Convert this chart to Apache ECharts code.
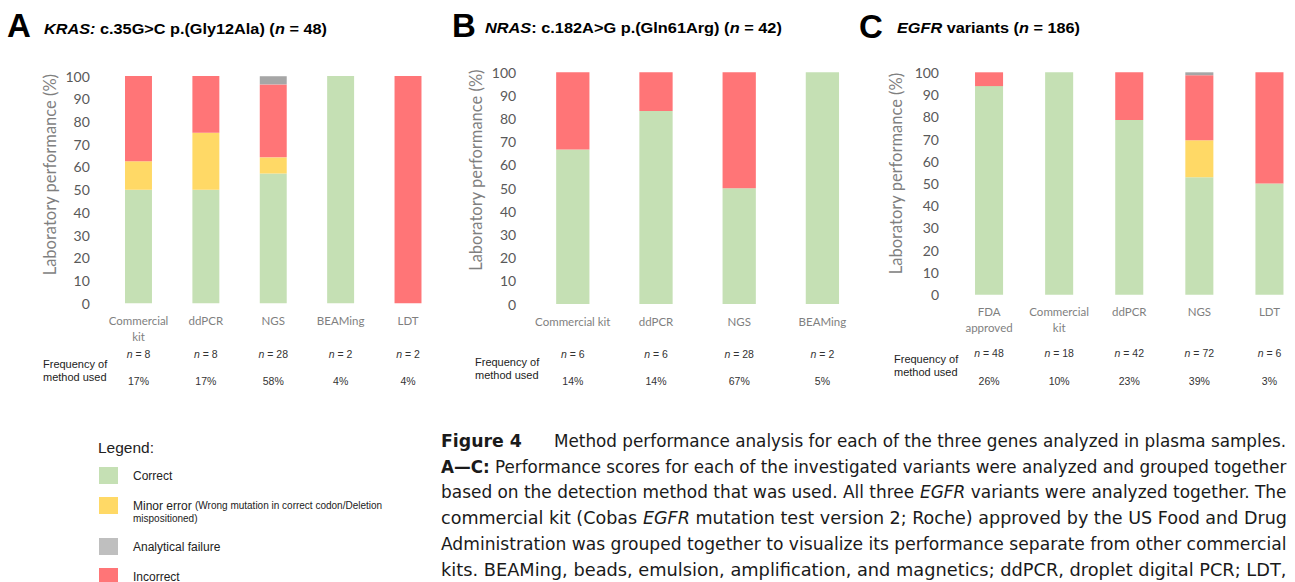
<!DOCTYPE html>
<html><head><meta charset="utf-8">
<script src="https://cdn.jsdelivr.net/npm/echarts@6/dist/echarts.min.js"></script>
<style>html,body{margin:0;padding:0;background:#fff}#c{width:1295px;height:582px}</style>
</head><body><div id="c"></div>
<script>
// ---------- DATA ----------
const catsA = ['Commercial\nkit', 'ddPCR', 'NGS', 'BEAMing', 'LDT'];
const correctA = [50, 50, 57.1, 100, 0];
const minorA = [12.5, 25, 7.1, 0, 0];
const incorrectA = [37.5, 25, 32.1, 0, 100];
const failureA = [0, 0, 3.6, 0, 0];
const nA = [8, 8, 28, 2, 2];
const pctA = ['17%', '17%', '58%', '4%', '4%'];

const catsB = ['Commercial kit', 'ddPCR', 'NGS', 'BEAMing'];
const correctB = [66.7, 83.3, 50, 100];
const incorrectB = [33.3, 16.7, 50, 0];
const nB = [6, 6, 28, 2];
const pctB = ['14%', '14%', '67%', '5%'];

const catsC = ['FDA\napproved', 'Commercial\nkit', 'ddPCR', 'NGS', 'LDT'];
const correctC = [93.8, 100, 78.6, 52.8, 50];
const minorC = [0, 0, 0, 16.7, 0];
const incorrectC = [6.2, 0, 21.4, 29.2, 50];
const failureC = [0, 0, 0, 1.4, 0];
const nC = [48, 18, 42, 72, 6];
const pctC = ['26%', '10%', '23%', '39%', '3%'];

const yTicks = { min: 0, max: 100, interval: 10 };

// ---------- STYLE ----------
const COL = { correct: '#C5E0B4', minor: '#FFD966', failure: '#A6A6A6', incorrect: '#FF7577' };
const LEG_FAIL = '#BFBFBF';
const AX_FONT = 'Lato';
const ARIAL = "'Liberation Sans', Arial, sans-serif";
const CAP_FONT = "'Liberation Sans Narrow', 'DejaVu Sans Condensed', 'Open Sans', sans-serif";

const grids = [
  { left: 104.8, top: 76, width: 336.9, height: 227.3, outerBoundsMode: 'none' },
  { left: 531.2, top: 72.3, width: 332.8, height: 231.7, outerBoundsMode: 'none' },
  { left: 954, top: 72.3, width: 350.5, height: 222.4, outerBoundsMode: 'none' }
];
const rowOff = [[44.7, 71.7], [44, 71], [52.3, 80.3]];
const nameGaps = [46, 47, 50];
const nameShift = [30, 36, 20];

const ctx = document.createElement('canvas').getContext('2d');
function measure(segs, size, family, baseBold) {
  let w = 0;
  segs.forEach(s => {
    const it = s.s && s.s.indexOf('i') >= 0;
    const bd = baseBold || (s.s && s.s.indexOf('b') >= 0);
    ctx.font = (it ? 'italic ' : '') + (bd ? 'bold ' : '') + size + 'px ' + family;
    w += ctx.measureText(s.t).width;
  });
  return w;
}
function stretchText(segs, x, y, targetW, size, family, baseBold, color) {
  const w = measure(segs, size, family, baseBold);
  const text = segs.map(s => s.s ? '{' + s.s + '|' + s.t + '}' : s.t).join('');
  const base = { fontSize: size, fontFamily: family, fill: color };
  return {
    type: 'text', x: x, y: y, scaleX: targetW / w, silent: true,
    style: {
      text: text, fontSize: size, fontFamily: family, fontWeight: baseBold ? 'bold' : 'normal',
      fill: color, verticalAlign: 'middle', align: 'left',
      rich: {
        b: Object.assign({ fontWeight: 'bold' }, base),
        i: Object.assign({ fontStyle: 'italic', fontWeight: baseBold ? 'bold' : 'normal' }, base),
        bi: Object.assign({ fontStyle: 'italic', fontWeight: 'bold' }, base)
      }
    }
  };
}

// ---------- AXES ----------
const xAxes = [], yAxes = [];
[[catsA, nA, pctA], [catsB, nB, pctB], [catsC, nC, pctC]].forEach((p, g) => {
  const [cats, ns, pcts] = p;
  xAxes.push({
    type: 'category', gridIndex: g, data: cats,
    axisLine: { show: false }, axisTick: { show: false }, splitLine: { show: false },
    axisLabel: { interval: 0, margin: 9, fontFamily: AX_FONT, fontSize: 11.5, color: '#7f7f7f', lineHeight: 16 }
  });
  xAxes.push({
    type: 'category', gridIndex: g, data: cats, position: 'bottom', offset: rowOff[g][0],
    axisLine: { show: false }, axisTick: { show: false }, splitLine: { show: false },
    axisLabel: {
      interval: 0, margin: 0, fontFamily: ARIAL, fontSize: 10.5, color: '#333', lineHeight: 12,
      formatter: (v, i) => '{i|n} = ' + ns[i],
      rich: { i: { fontStyle: 'italic', fontFamily: ARIAL, fontSize: 10.5, color: '#333', lineHeight: 12 } }
    }
  });
  xAxes.push({
    type: 'category', gridIndex: g, data: cats, position: 'bottom', offset: rowOff[g][1],
    axisLine: { show: false }, axisTick: { show: false }, splitLine: { show: false },
    axisLabel: { interval: 0, margin: 0, fontFamily: ARIAL, fontSize: 10.5, color: '#333', lineHeight: 12,
      formatter: (v, i) => pcts[i] }
  });
  yAxes.push({
    type: 'value', gridIndex: g, min: yTicks.min, max: yTicks.max, interval: yTicks.interval,
    splitLine: { show: false }, axisLine: { show: false }, axisTick: { show: false },
    axisLabel: { fontFamily: AX_FONT, fontSize: 14, color: '#595959', margin: 15 },
    name: 'Laboratory performance (%)', nameLocation: 'middle', nameGap: nameGaps[g], nameRotate: 90,
    nameTextStyle: { fontFamily: AX_FONT, fontSize: 16.5, color: '#7f7f7f', padding: [0, 0, 0, nameShift[g]] }
  });
});

// ---------- SERIES ----------
function bar(name, data, g, color) {
  return {
    type: 'bar', name: name, data: data, stack: 'p' + g, xAxisIndex: g * 3, yAxisIndex: g,
    barWidth: '40%', itemStyle: { color: color }, silent: true
  };
}
const series = [
  bar('Correct', correctA, 0, COL.correct), bar('Minor error', minorA, 0, COL.minor),
  bar('Incorrect', incorrectA, 0, COL.incorrect), bar('Analytical failure', failureA, 0, COL.failure),
  bar('Correct', correctB, 1, COL.correct), bar('Incorrect', incorrectB, 1, COL.incorrect),
  bar('Correct', correctC, 2, COL.correct), bar('Minor error', minorC, 2, COL.minor),
  bar('Incorrect', incorrectC, 2, COL.incorrect), bar('Analytical failure', failureC, 2, COL.failure)
];

// ---------- TEXT / GRAPHIC ----------
const graphic = [];
function bigLetter(t, x, y) {
  graphic.push({ type: 'text', x: x, y: y, silent: true,
    style: { text: t, fontSize: 33, fontWeight: 'bold', fontFamily: ARIAL, fill: '#000', verticalAlign: 'middle' } });
}
bigLetter('A', 7, 25.5); bigLetter('B', 452, 25); bigLetter('C', 859, 26);
graphic.push(stretchText([{ t: 'KRAS:', s: 'i' }, { t: ' c.35G>C p.(Gly12Ala) (' }, { t: 'n', s: 'i' }, { t: ' = 48)' }], 44, 28.5, 283, 14, ARIAL, true, '#000'));
graphic.push(stretchText([{ t: 'NRAS', s: 'i' }, { t: ': c.182A>G p.(Gln61Arg) (' }, { t: 'n', s: 'i' }, { t: ' = 42)' }], 485, 27.5, 297, 14, ARIAL, true, '#000'));
graphic.push(stretchText([{ t: 'EGFR', s: 'i' }, { t: ' variants (' }, { t: 'n', s: 'i' }, { t: ' = 186)' }], 897, 28, 183, 14, ARIAL, true, '#000'));

[[43, 370.5], [475, 368], [894, 365.5]].forEach(p => {
  graphic.push({ type: 'text', x: p[0], y: p[1], silent: true,
    style: { text: 'Frequency of\nmethod used', fontSize: 11, lineHeight: 13, fontFamily: ARIAL, fill: '#222', verticalAlign: 'middle' } });
});

// legend
graphic.push({ type: 'text', x: 98, y: 447, silent: true,
  style: { text: 'Legend:', fontSize: 15.5, fontFamily: ARIAL, fill: '#222', verticalAlign: 'middle' } });
const legItems = [
  { c: COL.correct, y: 467, t: 'Correct' },
  { c: COL.minor, y: 497, t: 'Minor error {s|(Wrong mutation in correct codon/Deletion}' },
  { c: LEG_FAIL, y: 538, t: 'Analytical failure' },
  { c: COL.incorrect, y: 568, t: 'Incorrect' }
];
legItems.forEach(it => {
  graphic.push({ type: 'rect', silent: true, shape: { x: 99, y: it.y, width: 19, height: 17 }, style: { fill: it.c } });
  graphic.push({ type: 'text', x: 133, y: it.y + 8.5, silent: true,
    style: { text: it.t, fontSize: 12, fontFamily: ARIAL, fill: '#222', verticalAlign: 'middle',
      rich: { s: { fontSize: 10, fontFamily: ARIAL, fill: '#222' } } } });
});
graphic.push({ type: 'text', x: 133, y: 518, silent: true,
  style: { text: 'mispositioned)', fontSize: 10, fontFamily: ARIAL, fill: '#222', verticalAlign: 'middle' } });

// caption
const capSize = 18, capL = 441, capR = 1287, capCol = '#1a1a1a';
graphic.push(stretchText([{ t: 'Figure 4', s: 'b' }], capL, 441, 81, capSize, CAP_FONT, false, capCol));
graphic.push(stretchText([{ t: 'Method performance analysis for each of the three genes analyzed in plasma samples.' }], 554, 441, capR - 554, capSize, CAP_FONT, false, capCol));
const capLines = [
  [{ t: 'A\u2014C:', s: 'b' }, { t: ' Performance scores for each of the investigated variants were analyzed and grouped together' }],
  [{ t: 'based on the detection method that was used. All three ' }, { t: 'EGFR', s: 'i' }, { t: ' variants were analyzed together. The' }],
  [{ t: 'commercial kit (Cobas ' }, { t: 'EGFR', s: 'i' }, { t: ' mutation test version 2; Roche) approved by the US Food and Drug' }],
  [{ t: 'Administration was grouped together to visualize its performance separate from other commercial' }],
  [{ t: 'kits. BEAMing, beads, emulsion, amplification, and magnetics; ddPCR, droplet digital PCR; LDT,' }]
];
const capY = [466.5, 492, 518, 543.5, 569];
capLines.forEach((ln, i) => graphic.push(stretchText(ln, capL, capY[i], capR - capL, capSize, CAP_FONT, false, capCol)));

const chart = echarts.init(document.getElementById('c'), null, { renderer: 'svg' });
chart.setOption({
  animation: false,
  backgroundColor: '#fff',
  grid: grids,
  xAxis: xAxes,
  yAxis: yAxes,
  series: series,
  graphic: graphic
});
</script></body></html>
